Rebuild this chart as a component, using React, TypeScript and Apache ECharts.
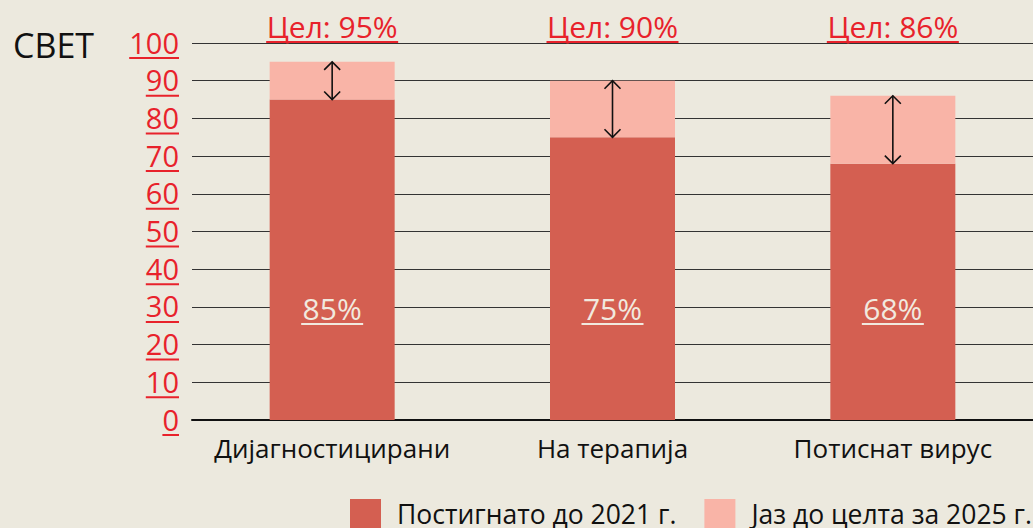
import React, { useEffect, useRef } from "react";
import * as echarts from "echarts";

const categories = ["Дијагностицирани", "На терапија", "Потиснат вирус"];
const achieved = [85, 75, 68];
const targets = [95, 90, 86];
const gaps = targets.map((t, i) => t - achieved[i]);
const yTicks = [0, 10, 20, 30, 40, 50, 60, 70, 80, 90, 100];
const seriesNames = ["Постигнато до 2021 г.", "Јаз до целта за 2025 г."];

const BG = "#ece9de";
const DARK = "#d45f51";
const LIGHT = "#f9b4a7";
const RED = "#e8222b";
const FONT = "'Open Sans', 'Noto Sans', sans-serif";

export default function App() {
  const ref = useRef<HTMLDivElement>(null);
  useEffect(() => {
    if (!ref.current) return;
    const chart = echarts.init(ref.current, undefined, { renderer: "svg" });
    const digitW = (s: string) => s.length * 16.6;
    chart.setOption({
      animation: false,
      backgroundColor: BG,
      textStyle: { fontFamily: FONT },
      title: {
        text: "СВЕТ",
        left: 8,
        top: 23,
        textStyle: { fontFamily: FONT, fontSize: 34, fontWeight: "normal", color: "#111" },
      },
      legend: {
        data: seriesNames,
        right: 1,
        top: 499,
        padding: 0,
        itemWidth: 31,
        itemHeight: 29,
        itemGap: 28,
        icon: "rect",
        textStyle: {
          fontFamily: FONT,
          fontSize: 26.5,
          lineHeight: 24,
          color: "#111",
          padding: [0, 0, 5, 11],
        },
      },
      grid: { left: 192, right: 0, top: 43, bottom: 108 },
      xAxis: [
        {
          type: "category",
          data: categories,
          position: "bottom",
          axisLine: { lineStyle: { color: "#111", width: 2 } },
          axisTick: { show: false },
          axisLabel: { interval: 0, fontSize: 26, color: "#111", margin: 15, fontFamily: FONT },
        },
        {
          type: "category",
          data: targets.map((t) => "Цел: " + t + "%"),
          position: "top",
          axisLine: { show: false },
          axisTick: { show: false },
          axisLabel: {
            interval: 0,
            margin: 0,
            formatter: (v: string) => "{v|" + v + "}\n{u| }",
            rich: {
              v: { fontSize: 30, color: RED, lineHeight: 29, fontFamily: FONT },
              u: { width: 132, height: 2, lineHeight: 2, backgroundColor: RED, fontSize: 1 },
            },
          },
        },
      ],
      yAxis: {
        type: "value",
        min: 0,
        max: 100,
        interval: 10,
        axisLine: { show: false },
        axisTick: { show: false },
        splitLine: { lineStyle: { color: "#333", width: 1 } },
        axisLabel: {
          margin: 13,
          formatter: (v: number) => {
            const s = String(v);
            return "{v|" + s + "}\n{u" + s.length + "| }";
          },
          rich: {
            v: { fontSize: 29, color: RED, lineHeight: 30, fontFamily: FONT, align: "right" },
            u1: { width: digitW("0"), height: 2, lineHeight: 2, backgroundColor: RED, fontSize: 1, align: "right" },
            u2: { width: digitW("00"), height: 2, lineHeight: 2, backgroundColor: RED, fontSize: 1, align: "right" },
            u3: { width: digitW("000"), height: 2, lineHeight: 2, backgroundColor: RED, fontSize: 1, align: "right" },
          },
        },
      },
      series: [
        {
          name: seriesNames[0],
          type: "bar",
          stack: "total",
          barWidth: 125,
          data: achieved,
          itemStyle: { color: DARK },
          label: {
            show: true,
            position: "insideBottom",
            distance: 95,
            formatter: (p: any) => "{v|" + p.value + "%}\n{u| }",
            rich: {
              v: { fontSize: 30, color: "#f1e9df", lineHeight: 30, fontFamily: FONT },
              u: { width: 62, height: 2, lineHeight: 2, backgroundColor: "#f1e9df", fontSize: 1 },
            },
          },
        },
        {
          name: seriesNames[1],
          type: "bar",
          stack: "total",
          barWidth: 125,
          data: gaps,
          itemStyle: { color: LIGHT },
        },
        {
          type: "custom",
          name: "arrows",
          data: targets.map((t, i) => [i, t, achieved[i]]),
          encode: { x: 0, y: [1, 2] },
          z: 10,
          renderItem: (params: any, api: any) => {
            const i = api.value(0);
            const top = api.coord([i, api.value(1)]);
            const bot = api.coord([i, api.value(2)]);
            const hw = 8;
            const hh = 8;
            const st = { stroke: "#111", lineWidth: 1.6, fill: "none" };
            return {
              type: "group",
              children: [
                { type: "line", shape: { x1: top[0], y1: top[1], x2: bot[0], y2: bot[1] }, style: st },
                {
                  type: "polyline",
                  shape: { points: [[top[0] - hw, top[1] + hh], [top[0], top[1]], [top[0] + hw, top[1] + hh]] },
                  style: st,
                },
                {
                  type: "polyline",
                  shape: { points: [[bot[0] - hw, bot[1] - hh], [bot[0], bot[1]], [bot[0] + hw, bot[1] - hh]] },
                  style: st,
                },
              ],
            };
          },
        },
      ],
    });
    return () => chart.dispose();
  }, []);
  return <div ref={ref} style={{ width: 1033, height: 528, position: "absolute", left: 0, top: 0 }} />;
}
